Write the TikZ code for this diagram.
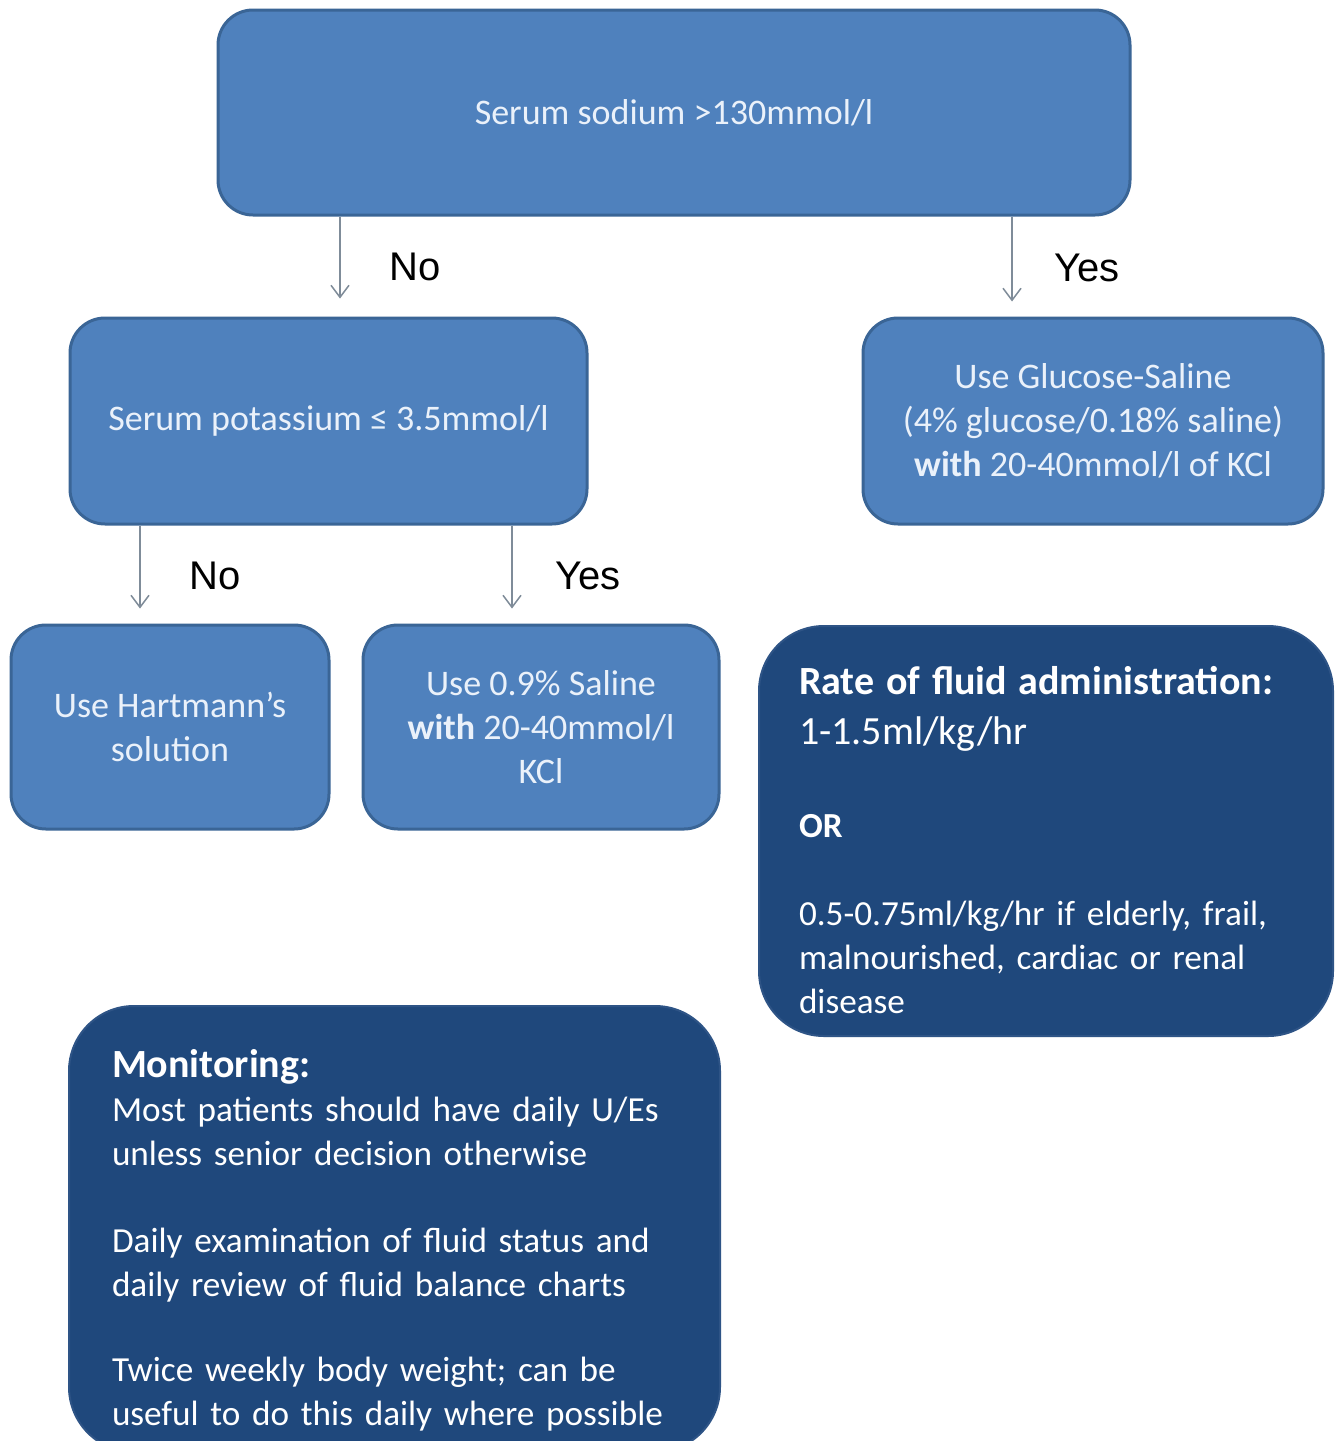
\documentclass[tikz,border=0pt]{standalone}
\usepackage{fontspec}
\setmainfont{Carlito}
\newfontfamily\arialf{Liberation Sans}
\usetikzlibrary{arrows.meta}
\definecolor{lightfill}{HTML}{4F81BD}
\definecolor{lightedge}{HTML}{3A6596}
\definecolor{darkfill}{HTML}{1F487C}
\definecolor{darkedge}{HTML}{2E5486}
\definecolor{lighttext}{HTML}{EAF1FA}
\definecolor{arrowgray}{HTML}{7F8C99}
\newcommand{\hd}[1]{{\fontsize{40}{44}\selectfont\bfseries #1}}
\begin{document}
\begin{tikzpicture}[x=1pt,y=-1pt,
 lightbox/.style={draw=lightedge, line width=3pt, fill=lightfill, rounded corners=35pt, text=lighttext, align=center, inner sep=0pt, font=\fontsize{36}{44}\selectfont},
 darkbox/.style={draw=darkedge, line width=2pt, fill=darkfill, rounded corners=65pt, inner sep=0pt},
 darktext/.style={text=white, align=left, inner sep=0pt, font=\fontsize{35.2}{44}\selectfont},
 flow/.style={draw=arrowgray, line width=1.5pt, -{Straight Barb[length=12pt,width=18pt]}},
 lbl/.style={font=\arialf\fontsize{40}{48}\selectfont, text=black, inner sep=0pt}]
\fill[white] (0,0) rectangle (1335,1441);
\useasboundingbox (0,0) rectangle (1335,1441);

\node[lightbox, minimum width=912pt, minimum height=205pt] (top) at (674,112.5) {Serum sodium >130mmol/l};
\node[lightbox, minimum width=517pt, minimum height=206pt] (pot) at (328.5,421) {Serum potassium ≤ 3.5mmol/l};
\node[lightbox, minimum width=460pt, minimum height=206pt] (glu) at (1093,421) {Use Glucose-Saline\\(4\% glucose/0.18\% saline)\\\textbf{with} 20-40mmol/l of KCl};
\node[lightbox, minimum width=318pt, minimum height=204pt] (hart) at (170,727) {Use Hartmann’s\\solution};
\node[lightbox, minimum width=356pt, minimum height=204pt] (sal) at (541,727) {Use 0.9\% Saline\\\textbf{with} 20-40mmol/l\\KCl};

\node[darkbox, minimum width=574pt, minimum height=410pt] (rate) at (1046,831) {};
\node[darktext, text width=494pt] (ratetxt) at ([yshift=-9pt]rate.center) {\hd{Rate of fluid administration:}\\[6pt]{\fontsize{40}{44}\selectfont 1-1.5ml/kg/hr}\\[49pt]\textbf{OR}\\[44pt]0.5-0.75ml/kg/hr if elderly, frail,\\malnourished, cardiac or renal\\disease};
\node[darkbox, minimum width=651pt, minimum height=446pt] (mon) at (394.5,1229) {};
\node[darktext, text width=565pt] (montxt) at ([yshift=-11pt]mon.center) {\hd{Monitoring:}\\Most patients should have daily U/Es\\unless senior decision otherwise\\[43pt]Daily examination of fluid status and\\daily review of fluid balance charts\\[41pt]Twice weekly body weight; can be\\useful to do this daily where possible};

\draw[flow] ([xshift=11.5pt]pot.north |- top.south) -- ([xshift=11.5pt,yshift=18pt]pot.north);
\draw[flow] ([xshift=-81pt]glu.north |- top.south) -- ([xshift=-81pt,yshift=15pt]glu.north);
\draw[flow] ([xshift=-30pt]hart.north |- pot.south) -- ([xshift=-30pt,yshift=15pt]hart.north);
\draw[flow] ([xshift=-29pt]sal.north |- pot.south) -- ([xshift=-29pt,yshift=15pt]sal.north);

\node[lbl] (no1) at (415,267) {No};
\node[lbl] (yes1) at (1087,268) {Yes};
\node[lbl] (no2) at (215,576) {No};
\node[lbl] (yes2) at (588,576) {Yes};
\end{tikzpicture}
\end{document}
